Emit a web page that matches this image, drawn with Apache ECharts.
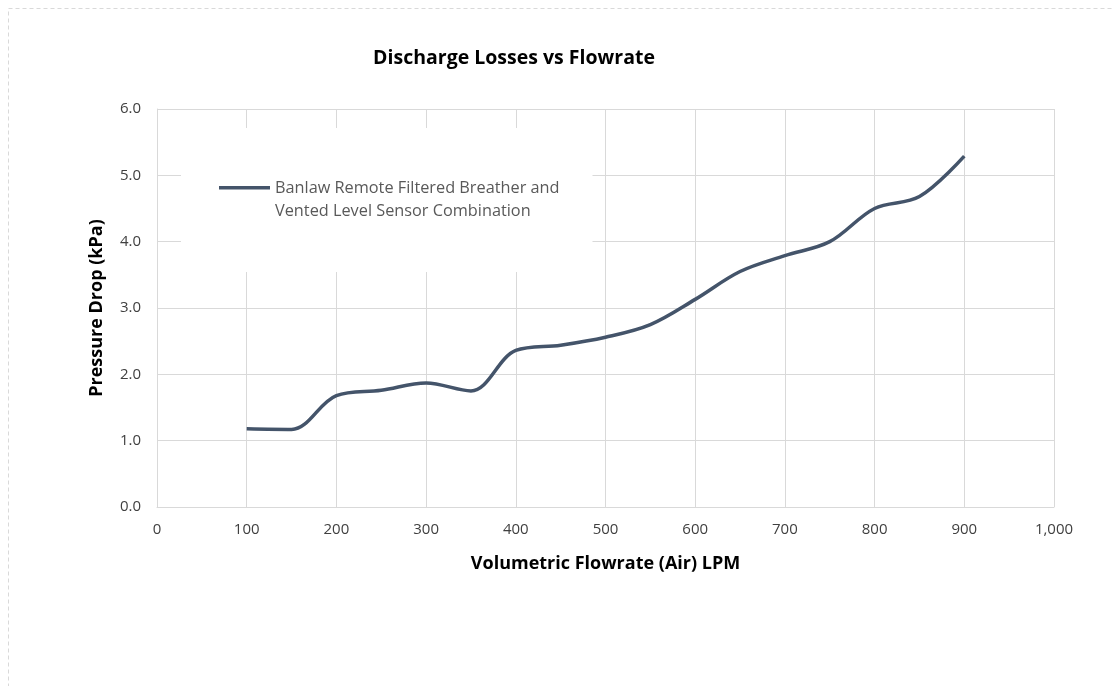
<!DOCTYPE html>
<html>
<head>
<meta charset="utf-8">
<script src="https://cdn.jsdelivr.net/npm/echarts@6/dist/echarts.min.js"></script>
<style>
html,body{margin:0;padding:0;background:#fff;}
#chart{width:1113px;height:686px;}
</style>
</head>
<body>
<div id="chart"></div>
<script>
const flowrate = [100, 150, 200, 250, 300, 350, 400, 450, 500, 550, 600, 650, 700, 750, 800, 850, 900];
const pressureDrop = [1.18, 1.17, 1.68, 1.76, 1.87, 1.75, 2.36, 2.44, 2.56, 2.75, 3.13, 3.55, 3.79, 4.0, 4.5, 4.68, 5.29];
const seriesName = 'Banlaw Remote Filtered Breather and\nVented Level Sensor Combination';
const titleText = 'Discharge Losses vs Flowrate';
const xAxisName = 'Volumetric Flowrate (Air) LPM';
const yAxisName = 'Pressure Drop (kPa)';

const chart = echarts.init(document.getElementById('chart'), null, {renderer: 'canvas'});
const gridColor = '#d9d9d9';
const tickColor = '#404040';
const legendColor = '#595959';
const lineColor = '#44546A';

chart.setOption({
  animation: false,
  backgroundColor: '#fff',
  graphic: [{
    type: 'rect',
    shape: {x: 8.5, y: 8.5, width: 1120, height: 700},
    style: {fill: 'none', stroke: '#d9d9d9', lineDash: [4, 3], lineWidth: 1},
    silent: true
  }],
  title: {
    text: titleText,
    left: 509,
    textAlign: 'center',
    top: 43,
    textStyle: {fontFamily: 'Open Sans', fontWeight: 'bold', fontSize: 19.5, color: '#000'}
  },
  grid: {left: 157, right: 59, top: 109, bottom: 179, containLabel: false},
  legend: {
    left: 181,
    top: 128,
    orient: 'vertical',
    backgroundColor: '#fff',
    padding: [48.5, 33, 49.5, 38],
    itemWidth: 51,
    itemHeight: 27,
    itemGap: 4,
    icon: 'path://M0,0L51,0L51,3.5L0,3.5Z M0,27L0.01,27Z',
    itemStyle: {borderWidth: 0, color: lineColor},
    textStyle: {fontFamily: 'Open Sans', fontSize: 16.3, color: legendColor, lineHeight: 23},
    data: [{name: seriesName}]
  },
  xAxis: {
    type: 'value',
    min: 0,
    max: 1000,
    interval: 100,
    name: xAxisName,
    nameLocation: 'middle',
    nameGap: 48,
    nameMoveOverlap: false,
    nameTextStyle: {fontFamily: 'Open Sans', fontWeight: 'bold', fontSize: 18, color: '#000'},
    axisLine: {show: true, lineStyle: {color: gridColor, width: 1}},
    axisTick: {show: false},
    axisLabel: {
      fontFamily: 'Open Sans', fontSize: 15, color: tickColor, margin: 15,
      formatter: v => v.toLocaleString('en-US')
    },
    splitLine: {show: true, lineStyle: {color: gridColor, width: 1}}
  },
  yAxis: {
    type: 'value',
    min: 0,
    max: 6,
    interval: 1,
    name: yAxisName,
    nameLocation: 'middle',
    nameGap: 51,
    nameMoveOverlap: false,
    nameRotate: 90,
    nameTextStyle: {fontFamily: 'Open Sans', fontWeight: 'bold', fontSize: 18, color: '#000'},
    axisLine: {show: true, lineStyle: {color: gridColor, width: 1}},
    axisTick: {show: false},
    axisLabel: {
      fontFamily: 'Open Sans', fontSize: 15, color: tickColor, margin: 16,
      formatter: v => v.toFixed(1)
    },
    splitLine: {show: true, lineStyle: {color: gridColor, width: 1}}
  },
  series: [{
    name: seriesName,
    type: 'line',
    data: flowrate.map((x, i) => [x, pressureDrop[i]]),
    smooth: 0.35,
    symbol: 'none',
    lineStyle: {color: lineColor, width: 3.5},
    itemStyle: {color: lineColor},
    z: 1
  }]
});
</script>
</body>
</html>
